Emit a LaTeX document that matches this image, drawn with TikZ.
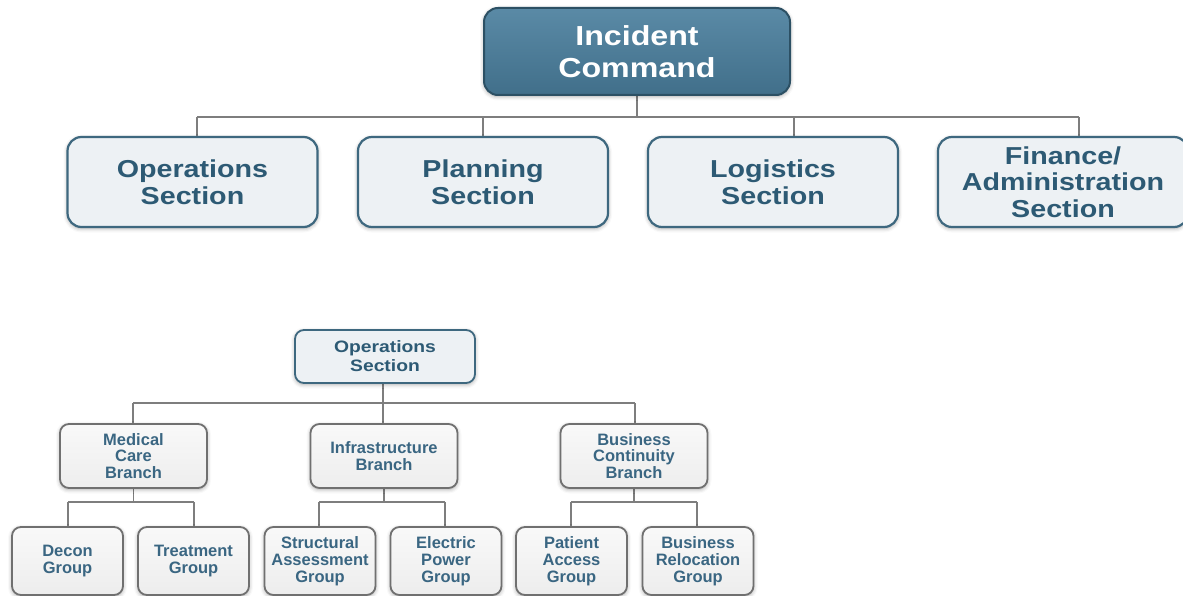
\documentclass[tikz,border=0pt]{standalone}
\usepackage{fontspec}
\setmainfont{Liberation Sans}
\newfontfamily\widefont[FakeStretch=1.17]{Liberation Sans}
\usetikzlibrary{shadows.blur,backgrounds}
\definecolor{icTop}{HTML}{5A8AA6}
\definecolor{icBot}{HTML}{416F8A}
\definecolor{icBorder}{HTML}{2C5064}
\definecolor{secFill}{HTML}{EDF1F4}
\definecolor{secBorder}{HTML}{3E687F}
\definecolor{secText}{HTML}{2D5A74}
\definecolor{lowText}{HTML}{3A6682}
\definecolor{grayBorder}{HTML}{707070}
\definecolor{connColor}{HTML}{7E7E7E}
\tikzset{
  softshadow/.style={blur shadow={shadow xshift=0pt, shadow yshift=-1.5pt, shadow blur radius=4pt, shadow opacity=35}},
  icbox/.style={softshadow, rounded corners=14pt, draw=icBorder, line width=2pt,
    top color=icTop, bottom color=icBot, text=white, inner sep=0pt, align=center,
    minimum width=306pt, minimum height=87pt,
    font=\widefont\bfseries\fontsize{27.5}{31.5}\selectfont},
  secbox/.style={softshadow, rounded corners=14pt, draw=secBorder, line width=2.2pt,
    fill=secFill, text=secText, inner sep=0pt, align=center,
    minimum width=250pt, minimum height=90pt,
    font=\widefont\bfseries\fontsize{24.5}{26.5}\selectfont},
  opsbox/.style={softshadow, rounded corners=9pt, draw=secBorder, line width=1.8pt,
    fill=secFill, text=secText, inner sep=0pt, align=center,
    minimum width=180pt, minimum height=53pt,
    font=\widefont\bfseries\fontsize{16.5}{19}\selectfont},
  brbox/.style={softshadow, rounded corners=9pt, draw=grayBorder, line width=1.8pt,
    top color=white!95!gray, bottom color=white!86!gray, text=lowText, inner sep=0pt, align=center,
    minimum width=147pt, minimum height=64pt,
    font=\bfseries\fontsize{16.5}{16.8}\selectfont},
  grpbox/.style={brbox, minimum width=111pt, minimum height=68pt},
  conn/.style={draw=connColor, line width=1.5pt}
}
\begin{document}
\begin{tikzpicture}[x=1pt,y=-1pt]
\useasboundingbox (0,0) rectangle (1183,596);
% ---------- top chart nodes ----------
\node[icbox] (ic) at (637,51.5) {Incident\\Command};
\node[secbox] (ops) at (192.5,182) {Operations\\Section};
\node[secbox] (plan) at (483,182) {Planning\\Section};
\node[secbox] (logi) at (773,182) {Logistics\\Section};
\node[secbox] (fin) at (1063,182) {Finance/\\Administration\\Section};
% ---------- lower chart nodes ----------
\node[opsbox] (ops2) at (385,356.5) {Operations\\Section};
\node[brbox] (med) at (133.5,456) {Medical\\Care\\Branch};
\node[brbox] (infra) at (384,456) {Infrastructure\\Branch};
\node[brbox] (busi) at (634,456) {Business\\Continuity\\Branch};
\node[grpbox] (decon) at (67.5,561) {Decon\\Group};
\node[grpbox] (treat) at (193.5,561) {Treatment\\Group};
\node[grpbox] (struct) at (320,561) {Structural\\Assessment\\Group};
\node[grpbox] (elec) at (446,561) {Electric\\Power\\Group};
\node[grpbox] (pat) at (571.5,561) {Patient\\Access\\Group};
\node[grpbox] (reloc) at (698,561) {Business\\Relocation\\Group};
% ---------- connectors ----------
\begin{scope}[on background layer]
% top bus
\coordinate (busC) at (637,117);
\coordinate (busL) at (197,117);
\coordinate (busP) at (483,117);
\coordinate (busG) at (794,117);
\coordinate (busR) at (1079,117);
\draw[conn] (ic.south) -- (busC);
\draw[conn] (busL) -- (busR);
\draw[conn] (busL) -- (busL |- ops.north);
\draw[conn] (busP) -- (busP |- plan.north);
\draw[conn] (busG) -- (busG |- logi.north);
\draw[conn] (busR) -- (busR |- fin.north);
% lower bus
\coordinate (lbusC) at (383,403);
\coordinate (lbusL) at (133,403);
\coordinate (lbusR) at (635,403);
\draw[conn] (ops2.south -| lbusC) -- (lbusC);
\draw[conn] (lbusL) -- (lbusR);
\draw[conn] (lbusL) -- (lbusL |- med.north);
\draw[conn] (lbusC) -- (lbusC |- infra.north);
\draw[conn] (lbusR) -- (lbusR |- busi.north);
% medical sub-bus
\coordinate (mC) at (133.5,502);
\coordinate (mL) at (68,502);
\coordinate (mR) at (194,502);
\draw[conn] (med.south) -- (mC);
\draw[conn] (mL) -- (mR);
\draw[conn] (mL) -- (mL |- decon.north);
\draw[conn] (mR) -- (mR |- treat.north);
% infrastructure sub-bus
\coordinate (iC) at (384,502);
\coordinate (iL) at (319,502);
\coordinate (iR) at (445,502);
\draw[conn] (infra.south) -- (iC);
\draw[conn] (iL) -- (iR);
\draw[conn] (iL) -- (iL |- struct.north);
\draw[conn] (iR) -- (iR |- elec.north);
% business sub-bus
\coordinate (bC) at (634,502);
\coordinate (bL) at (571,502);
\coordinate (bR) at (697,502);
\draw[conn] (busi.south) -- (bC);
\draw[conn] (bL) -- (bR);
\draw[conn] (bL) -- (bL |- pat.north);
\draw[conn] (bR) -- (bR |- reloc.north);
\end{scope}
\end{tikzpicture}
\end{document}
